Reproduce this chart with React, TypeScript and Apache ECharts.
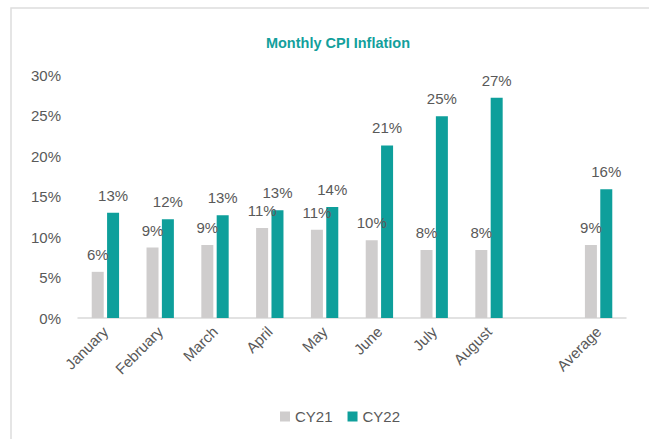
import React, { useEffect, useRef } from "react";
import * as echarts from "echarts";

const categories = ["January", "February", "March", "April", "May", "June", "July", "August", "", "Average"];
const cy21 = [5.7, 8.7, 9.0, 11.1, 10.9, 9.6, 8.4, 8.4, null, 9.0];
const cy22 = [13.0, 12.2, 12.7, 13.3, 13.7, 21.3, 24.9, 27.2, null, 15.9];
const yTicks = { min: 0, max: 30, interval: 5 };
const seriesNames = ["CY21", "CY22"];

const FONT = "Liberation Sans, Arial, sans-serif";
const TXT = "#595959";

export default function App() {
  const ref = useRef<HTMLDivElement>(null);
  useEffect(() => {
    if (!ref.current) return;
    const chart = echarts.init(ref.current, undefined, { renderer: "svg" });
    const label = {
      show: true,
      position: "top" as const,
      distance: 10,
      color: TXT,
      fontSize: 15,
      fontFamily: FONT,
      formatter: (p: any) => (p.value == null ? "" : Math.round(p.value) + "%"),
    };
    chart.setOption({
      animation: false,
      backgroundColor: "#ffffff",
      textStyle: { fontFamily: FONT },
      title: {
        text: "Monthly CPI Inflation",
        left: 333,
        top: 30,
        textAlign: "center",
        textStyle: { color: "#13A09C", fontSize: 14.5, fontWeight: "bold", fontFamily: FONT },
      },
      graphic: [
        {
          type: "rect",
          shape: { x: 11, y: 8, width: 700, height: 500 },
          style: { fill: "none", stroke: "#DDDDDD", lineWidth: 1.5 },
          silent: true,
        },
      ],
      legend: {
        data: seriesNames,
        left: 275,
        top: 404,
        icon: "rect",
        itemWidth: 10,
        itemHeight: 10,
        itemGap: 15,
        textStyle: { color: TXT, fontSize: 15, fontFamily: FONT },
      },
      grid: { left: 78, right: 23, top: 75, bottom: 121, containLabel: false },
      xAxis: {
        type: "category",
        data: categories,
        axisLine: { lineStyle: { color: "#D9D9D9", width: 1.5 } },
        axisTick: { show: false },
        axisLabel: { interval: 0, rotate: 45, margin: 11, color: TXT, fontSize: 15, fontFamily: FONT },
      },
      yAxis: {
        type: "value",
        min: yTicks.min,
        max: yTicks.max,
        interval: yTicks.interval,
        axisLine: { show: false },
        axisTick: { show: false },
        splitLine: { show: false },
        axisLabel: { margin: 17, color: TXT, fontSize: 15, fontFamily: FONT, formatter: "{value}%" },
      },
      series: [
        {
          name: seriesNames[0],
          type: "bar",
          data: cy21,
          barWidth: 12,
          barGap: "28%",
          itemStyle: { color: "#CFCDCD" },
          label,
        },
        {
          name: seriesNames[1],
          type: "bar",
          data: cy22,
          barWidth: 12,
          barGap: "28%",
          itemStyle: { color: "#0E9F9B" },
          label,
        },
      ],
    });
    return () => chart.dispose();
  }, []);
  return <div ref={ref} style={{ position: "fixed", left: 0, top: 0, width: 649, height: 439 }} />;
}
